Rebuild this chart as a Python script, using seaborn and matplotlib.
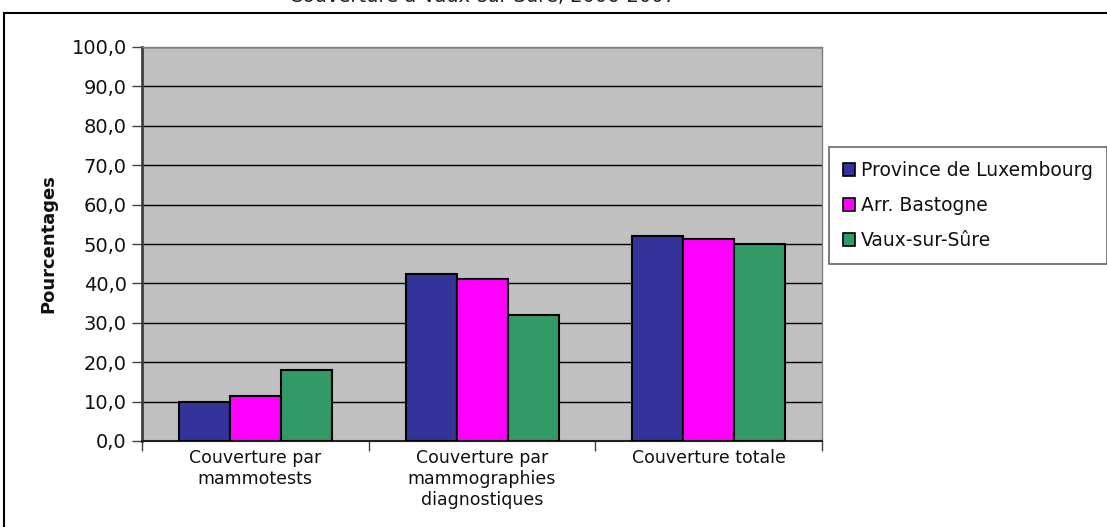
import pandas as pd
import seaborn as sns
import matplotlib.pyplot as plt
from matplotlib.patches import Rectangle

# data
categories = ["Couverture par\nmammotests",
              "Couverture par\nmammographies\ndiagnostiques",
              "Couverture totale"]
series = ["Province de Luxembourg", "Arr. Bastogne", "Vaux-sur-Sûre"]
province = [10.0, 42.3, 52.1]
bastogne = [11.3, 41.0, 51.2]
vaux = [17.9, 32.1, 49.9]
colors = ["#333399", "#FF00FF", "#339966"]
yticks = [0, 10, 20, 30, 40, 50, 60, 70, 80, 90, 100]

df = pd.DataFrame({
    "categorie": categories * 3,
    "serie": [s for s in series for _ in categories],
    "valeur": province + bastogne + vaux,
})

sns.set_style("white")
plt.rcParams["font.family"] = ["DejaVu Sans"]

fig = plt.figure(figsize=(11.07, 5.27), dpi=100)
W, H = 1107, 527

# outer chart frame
fig.patches.append(Rectangle((4 / W, -0.05), 1.2, 1 - 13 / H + 0.05,
                             transform=fig.transFigure, fill=False,
                             edgecolor="black", linewidth=1.5))

# title (cut off at top in the reference)
fig.text(482 / W, 1 - 2 / H, "Couverture à Vaux-sur-Sûre, 2006-2007",
         ha="center", va="baseline", fontsize=14, color="#222222")

ax = fig.add_axes([142 / W, (H - 441) / H, 680 / W, 394 / H])
ax.set_facecolor("#C0C0C0")

sns.barplot(data=df, x="categorie", y="valeur", hue="serie",
            palette=colors, saturation=1, width=0.675,
            edgecolor="black", linewidth=1.5, ax=ax, zorder=3)

ax.set_ylim(0, 100)
ax.set_xlim(-0.5, 2.5)
ax.set_yticks(yticks)
ax.set_yticklabels([f"{v:.1f}".replace(".", ",") for v in yticks], fontsize=14)
ax.yaxis.grid(True, color="black", linewidth=1)
ax.set_axisbelow(True)
ax.tick_params(axis="y", direction="out", length=7, width=1, color="#404040",
               left=True, pad=4, labelcolor="#111111")

ax.set_xticks(range(len(categories)))
ax.set_xticklabels(categories, fontsize=12.5, linespacing=1.2)
ax.tick_params(axis="x", which="major", length=0, pad=6, labelcolor="#111111")
ax.set_xticks([-0.5, 0.5, 1.5, 2.5], minor=True)
ax.tick_params(axis="x", which="minor", direction="out", length=7,
               width=1, color="#404040", bottom=True)

ax.set_xlabel("")
ax.set_ylabel("Pourcentages", fontsize=13, fontweight="bold", labelpad=10,
              color="#111111")

for side in ["top", "right"]:
    ax.spines[side].set_color("#808080")
    ax.spines[side].set_linewidth(1)
ax.spines["left"].set_color("#404040")
ax.spines["left"].set_linewidth(2)
ax.spines["bottom"].set_color("#202020")
ax.spines["bottom"].set_linewidth(1.5)

ax.legend_.remove()
handles = [Rectangle((0, 0), 1, 1, facecolor=c, edgecolor="black", linewidth=1.2)
           for c in colors]
leg = fig.legend(handles, series, loc="upper left",
                 bbox_to_anchor=(829 / W, 1 - 147 / H),
                 fontsize=13.5, frameon=True, fancybox=False,
                 edgecolor="#404040", handlelength=0.65, handleheight=0.65,
                 handletextpad=0.3, labelspacing=0.85, borderpad=0.75,
                 borderaxespad=0, labelcolor="#111111")
leg.get_frame().set_linewidth(1.2)

fig.savefig("out.png", dpi=100)
